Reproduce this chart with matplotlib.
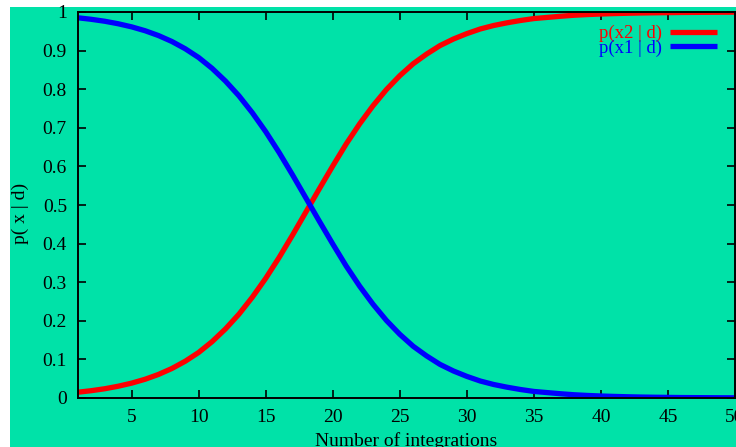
import matplotlib
matplotlib.use("Agg")
import matplotlib.pyplot as plt
from matplotlib.patches import Rectangle

n_integrations = list(range(1, 51))
p_x2 = [0.0150, 0.0190, 0.0240, 0.0305, 0.0385, 0.0485, 0.0610, 0.0764, 0.0953, 0.118,
        0.146, 0.179, 0.217, 0.261, 0.310, 0.364, 0.422, 0.482, 0.542, 0.601,
        0.658, 0.710, 0.757, 0.799, 0.835, 0.866, 0.891, 0.913, 0.930, 0.944,
        0.956, 0.965, 0.972, 0.978, 0.983, 0.986, 0.989, 0.9916, 0.9934, 0.9948,
        0.9959, 0.9968, 0.9975, 0.9980, 0.9984, 0.9988, 0.9990, 0.9992, 0.9994, 0.9995]
p_x1 = [0.9850, 0.9810, 0.9760, 0.9695, 0.9615, 0.9515, 0.9390, 0.9236, 0.9047, 0.882,
        0.854, 0.821, 0.783, 0.739, 0.690, 0.636, 0.578, 0.518, 0.458, 0.399,
        0.342, 0.290, 0.243, 0.201, 0.165, 0.134, 0.109, 0.087, 0.070, 0.056,
        0.044, 0.035, 0.028, 0.022, 0.017, 0.014, 0.011, 0.0084, 0.0066, 0.0052,
        0.0041, 0.0032, 0.0025, 0.0020, 0.0016, 0.0012, 0.0010, 0.0008, 0.0006, 0.0005]
series_labels = ["p(x2 | d)", "p(x1 | d)"]
x_ticks = [5, 10, 15, 20, 25, 30, 35, 40, 45, 50]
y_ticks = [0, 0.1, 0.2, 0.3, 0.4, 0.5, 0.6, 0.7, 0.8, 0.9, 1]
y_tick_labels = ["0", "0.1", "0.2", "0.3", "0.4", "0.5", "0.6", "0.7", "0.8", "0.9", "1"]

BG = "#00E2A8"
plt.rcParams['font.family'] = ['Liberation Serif', 'DejaVu Serif']

fig = plt.figure(figsize=(7.36, 4.47), dpi=100)
fig.patch.set_facecolor("white")
fig.patches.append(Rectangle((10 / 736, 0), 1, 1 - 7 / 447, transform=fig.transFigure,
                             facecolor=BG, edgecolor="none", zorder=-10))

ax = fig.add_axes([78 / 736, 49 / 447, 657 / 736, 386 / 447])
ax.set_facecolor(BG)
ax.plot(n_integrations, p_x2, color="#FF0000", lw=3.8, label=series_labels[0], solid_capstyle="butt")
ax.plot(n_integrations, p_x1, color="#0000FF", lw=3.8, label=series_labels[1], solid_capstyle="butt")
ax.set_xlim(1, 50)
ax.set_ylim(0, 1)
ax.set_xticks(x_ticks)
ax.set_yticks(y_ticks)
ax.set_yticklabels(y_tick_labels)
ax.tick_params(direction="in", length=6, width=1.2, top=True, right=True, labelsize=14,
               pad=8, colors="black")
for s in ax.spines.values():
    s.set_linewidth(1.4)
ax.set_xlabel("Number of integrations", fontsize=14, labelpad=4)
ax.set_ylabel("p( x | d)", fontsize=14)
ax.yaxis.set_label_coords(-0.075, 0.479)

leg = ax.legend(loc="upper right", bbox_to_anchor=(0.9726, 0.966), frameon=False,
                markerfirst=False, labelcolor="linecolor", fontsize=13.5,
                handlelength=2.5, handletextpad=0.43, labelspacing=-0.15, borderpad=0,
                borderaxespad=0)

fig.savefig("out.png", dpi=100)
